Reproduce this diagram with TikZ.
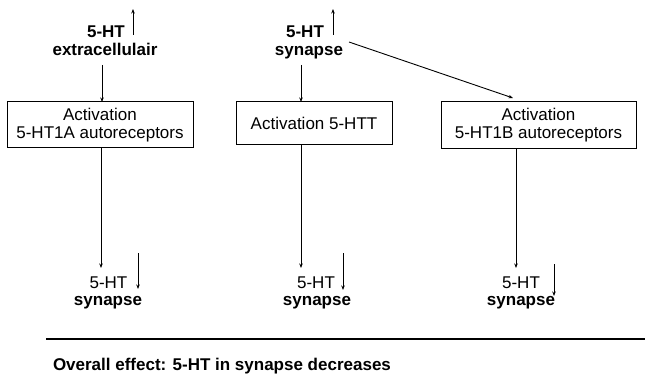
\documentclass[tikz,border=0pt]{standalone}
\usepackage{fontspec}
\setmainfont{Liberation Sans}
\usetikzlibrary{arrows.meta}
\begin{document}
\begin{tikzpicture}[x=1pt,y=-1pt,
  every node/.style={inner sep=0pt,outer sep=0pt,font=\fontsize{17}{18}\selectfont},
  lbl/.style={anchor=base,font=\fontsize{17}{18}\selectfont\bfseries},
  plain/.style={anchor=base,font=\fontsize{17}{18}\selectfont},
  box/.style={draw,line width=1pt,align=center},
  arr/.style={line width=0.9pt,-{Stealth[length=4.5pt,width=3.5pt]}}]
\useasboundingbox (0,0) rectangle (645,382);

% upper labels
\node[lbl] (ta1) at (106,38) {5-HT};
\node[lbl] (tb1) at (105,56) {extracellulair};
\node[lbl] (ta2) at (305,38) {5-HT};
\node[lbl] (tb2) at (309,56) {synapse};

% rising level markers
\coordinate (u1a) at (133,35); \coordinate (u1b) at (133,9);
\coordinate (u2a) at (333,35); \coordinate (u2b) at (333,9);
\draw[arr] (u1a) -- (u1b);
\draw[arr] (u2a) -- (u2b);

% mechanism boxes
\node[box,minimum width=186,minimum height=46] (b1) at (100,125)
  {Activation\\5-HT1A autoreceptors};
\node[box,minimum width=156,minimum height=43] (b2) at (314,123.5)
  {Activation 5-HTT};
\node[box,minimum width=195,minimum height=47] (b3) at (538.5,125.5)
  {Activation\\5-HT1B autoreceptors};

% inputs into the boxes
\coordinate (s1) at (102,65);
\coordinate (s2) at (301,65);
\coordinate (s3) at (349,42);
\coordinate (d3) at (513,98);
\draw[arr] (s1) -- (b1.north -| s1);
\draw[arr] (s2) -- (b2.north -| s2);
\draw[arr] (s3) -- (d3);

% outputs towards the synapse
\coordinate (e1) at (101,268);
\coordinate (e2) at (301,268);
\coordinate (e3) at (516,268);
\draw[arr] (b1.south -| e1) -- (e1);
\draw[arr] (b2.south -| e2) -- (e2);
\draw[arr] (b3.south -| e3) -- (e3);

% lower labels
\node[plain] (la1) at (108.5,288) {5-HT};
\node[lbl] (lb1) at (108,305) {synapse};
\node[plain] (la2) at (316,288) {5-HT};
\node[lbl] (lb2) at (317,305) {synapse};
\node[plain] (la3) at (521,288) {5-HT};
\node[lbl] (lb3) at (521,305) {synapse};

% falling level markers
\coordinate (f1a) at (138,253); \coordinate (f1b) at (138,289);
\coordinate (f2a) at (343,253); \coordinate (f2b) at (343,290);
\coordinate (f3a) at (554,264); \coordinate (f3b) at (554,296);
\draw[arr] (f1a) -- (f1b);
\draw[arr] (f2a) -- (f2b);
\draw[arr] (f3a) -- (f3b);

% summary
\coordinate (r1) at (46,339); \coordinate (r2) at (645,339);
\draw[line width=1.3pt] (r1) -- (r2);
\node[lbl,anchor=base west] (sum) at (53,370) {Overall effect: 5-HT in synapse decreases};
\end{tikzpicture}
\end{document}
